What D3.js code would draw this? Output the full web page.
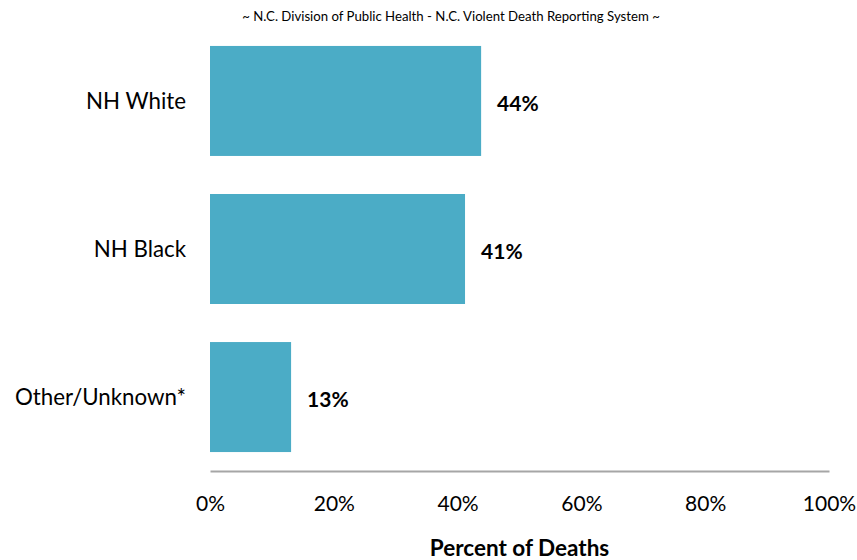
<!DOCTYPE html>
<html>
<head>
<meta charset="utf-8">
<script src="https://cdn.jsdelivr.net/npm/d3@7"></script>
<style>
  html, body { margin: 0; padding: 0; background: #fff; }
  svg { display: block; font-family: Lato, "Open Sans", sans-serif; }
</style>
</head>
<body>
<svg id="chart" width="857" height="560"></svg>
<script>
const categories = ["NH White", "NH Black", "Other/Unknown*"];
const values = [43.8, 41.2, 13.1];
const valueLabels = ["44%", "41%", "13%"];
const tickValues = [0, 20, 40, 60, 80, 100];
const tickLabels = ["0%", "20%", "40%", "60%", "80%", "100%"];
const sourceText = "~ N.C. Division of Public Health - N.C. Violent Death Reporting System ~";
const axisTitle = "Percent of Deaths";

(function () {
const svg = d3.select("#chart");
const plotLeft = 210, plotRight = 829, plotTop = 27, axisY = 471;

const x = d3.scaleLinear().domain([0, 100]).range([plotLeft, plotRight]);
const y = d3.scaleBand().domain(categories).range([plotTop, axisY]).paddingInner(0.257).paddingOuter(0.128);

svg.append("text")
  .attr("x", 451).attr("y", 21)
  .attr("text-anchor", "middle")
  .attr("font-size", 13.2)
  .attr("fill", "#000")
  .text(sourceText);

svg.selectAll("rect.bar").data(categories).enter().append("rect")
  .attr("class", "bar")
  .attr("x", x(0))
  .attr("y", d => y(d))
  .attr("width", (d, i) => x(values[i]) - x(0))
  .attr("height", y.bandwidth())
  .attr("fill", "#4BACC6");

svg.selectAll("text.val").data(categories).enter().append("text")
  .attr("class", "val")
  .attr("x", (d, i) => x(values[i]) + 16)
  .attr("y", d => y(d) + y.bandwidth() / 2 + 10)
  .attr("font-size", 21)
  .attr("font-weight", "bold")
  .attr("fill", "#000")
  .text((d, i) => valueLabels[i]);

svg.selectAll("text.cat").data(categories).enter().append("text")
  .attr("class", "cat")
  .attr("x", plotLeft - 24)
  .attr("y", d => y(d) + y.bandwidth() / 2 + 8)
  .attr("text-anchor", "end")
  .attr("font-size", 22.3)
  .attr("fill", "#000")
  .text(d => d);

const axis = d3.axisBottom(x).tickValues(tickValues)
  .tickFormat((d, i) => tickLabels[i]).tickSize(0).tickPadding(25);
const g = svg.append("g").attr("transform", `translate(0,${axisY})`).call(axis);
g.select(".domain").attr("stroke", "#A6A6A6").attr("stroke-width", 2);
g.selectAll("text").attr("font-size", 21).attr("fill", "#000").attr("font-family", "Lato, 'Open Sans', sans-serif");

svg.append("text")
  .attr("x", (plotLeft + plotRight) / 2).attr("y", 556)
  .attr("text-anchor", "middle")
  .attr("font-size", 22.5)
  .attr("font-weight", "bold")
  .attr("fill", "#000")
  .text(axisTitle);
})();
</script>
</body>
</html>
